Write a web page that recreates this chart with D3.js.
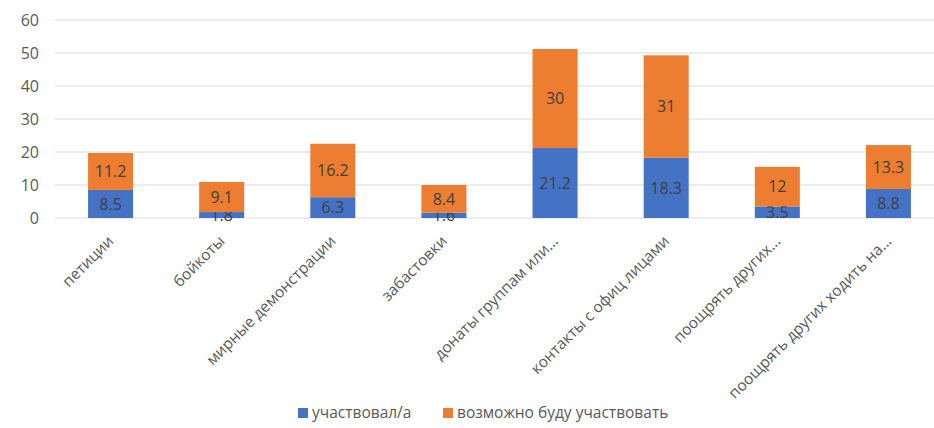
<!DOCTYPE html>
<html><head><meta charset="utf-8">
<script src="https://cdn.jsdelivr.net/npm/d3@7/dist/d3.min.js"></script>
<style>body{margin:0;background:#fff}svg{display:block}text{font-family:"Open Sans",sans-serif}</style>
</head><body><svg id="c" width="934" height="428"></svg>
<script>
const categories = ["петиции","бойкоты","мирные демонстрации","забастовки","донаты группам или...","контакты с офиц лицами","поощрять других...","поощрять других ходить на..."];
const participated = [8.5,1.8,6.3,1.6,21.2,18.3,3.5,8.8];
const maybe = [11.2,9.1,16.2,8.4,30,31,12,13.3];
const seriesNames = ["участвовал/а","возможно буду участвовать"];
const yTicks = [0,10,20,30,40,50,60];
const colors = ["#4472C4","#ED7D31"];

const svg = d3.select("#c");
const x = d3.scaleBand().domain(categories).range([55,944]).paddingInner(0.595).paddingOuter(0.2975);
const y = d3.scaleLinear().domain([0,60]).range([218,20]);

// gridlines
svg.append("g").selectAll("line").data(yTicks).join("line")
  .attr("x1",55).attr("x2",934).attr("y1",d=>y(d)).attr("y2",d=>y(d))
  .attr("stroke","#d9d9d9").attr("stroke-width",1);

// y axis labels
const ya = svg.append("g").attr("transform","translate(39,0)")
  .call(d3.axisLeft(y).tickValues(yTicks).tickSize(0).tickPadding(0));
ya.select(".domain").remove();
ya.selectAll("text").attr("font-size",16).attr("fill","#595959").attr("font-family","'Open Sans',sans-serif");

const stacked = d3.stack().keys([0,1]).value((d,k)=>d[k])(categories.map((c,i)=>[participated[i],maybe[i]]));

stacked.forEach((layer,k)=>{
  const g = svg.append("g");
  g.selectAll("rect").data(layer).join("rect")
    .attr("x",(d,i)=>x(categories[i])).attr("width",x.bandwidth())
    .attr("y",d=>y(d[1])).attr("height",d=>y(d[0])-y(d[1]))
    .attr("fill",colors[k]);
  g.selectAll("text").data(layer).join("text")
    .attr("x",(d,i)=>x(categories[i])+x.bandwidth()/2)
    .attr("y",d=>(y(d[0])+y(d[1]))/2)
    .attr("dy","0.36em").attr("text-anchor","middle")
    .attr("font-size",16).attr("fill","#404040")
    .text((d,i)=>(k===0?participated[i]:maybe[i]));
});

// x axis labels
const xa = svg.append("g").attr("transform","translate(0,218)")
  .call(d3.axisBottom(x).tickSize(0).tickPadding(0));
xa.select(".domain").remove();
xa.selectAll("text")
  .attr("font-size",15.5).attr("fill","#595959").attr("font-family","'Open Sans',sans-serif")
  .attr("text-anchor","end").attr("dy",null).attr("y",0)
  .attr("transform","translate(4,24) rotate(-45)");

// legend
const leg = svg.append("g");
const lx = [298,443];
seriesNames.forEach((n,k)=>{
  leg.append("rect").attr("x",lx[k]).attr("y",408).attr("width",10).attr("height",10).attr("fill",colors[k]);
  leg.append("text").attr("x",lx[k]+14).attr("y",413).attr("dy","0.35em")
    .attr("font-size",15.5).attr("fill","#595959").text(n);
});
</script></body></html>
